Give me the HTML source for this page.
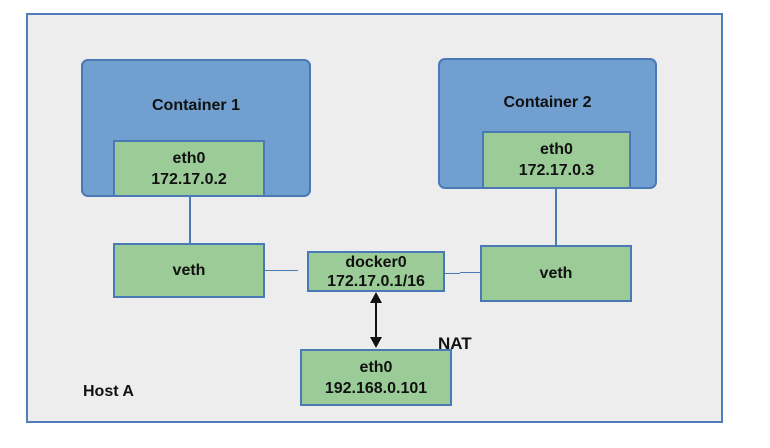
<!DOCTYPE html>
<html><head><style>
body{margin:0;width:770px;height:448px;background:#fff;position:relative;overflow:hidden;font-family:"Liberation Sans",sans-serif;font-weight:bold;color:#111}
div{position:absolute;box-sizing:border-box}
.g{background:#9bcc98;border:2px solid #4a79b5;text-align:center;font-size:16px;display:flex;flex-direction:column;justify-content:center;line-height:21px}
.c{background:#709fd0;border:2px solid #4a79b5;border-radius:7px}
</style></head><body>
<div style="left:26px;top:13px;width:697px;height:410px;background:#ededed;border:2px solid #4f7fb8"></div>
<div class="c" style="left:81px;top:59px;width:230px;height:138px"></div>
<div style="left:81px;top:97px;width:230px;text-align:center;font-size:16px">Container 1</div>
<div class="g" style="left:113px;top:140px;width:152px;height:57px">eth0<br>172.17.0.2</div>
<div class="c" style="left:438px;top:58px;width:219px;height:131px"></div>
<div style="left:438px;top:94px;width:219px;text-align:center;font-size:16px">Container 2</div>
<div class="g" style="left:482px;top:131px;width:149px;height:58px">eth0<br>172.17.0.3</div>
<div style="left:189px;top:196px;width:2px;height:47px;background:#4a79b5"></div>
<div style="left:555px;top:188px;width:2px;height:57px;background:#4a79b5"></div>
<div class="g" style="left:113px;top:243px;width:152px;height:55px">veth</div>
<div class="g" style="left:480px;top:245px;width:152px;height:57px">veth</div>
<div style="left:264px;top:270px;width:34px;height:1px;background:#4a79b5"></div>
<div style="left:440px;top:273px;width:20px;height:1px;background:#4a79b5"></div>
<div style="left:460px;top:272px;width:21px;height:1px;background:#4a79b5"></div>
<div class="g" style="left:307px;top:251px;width:138px;height:41px;line-height:19px">docker0<br>172.17.0.1/16</div>
<svg style="position:absolute;left:366px;top:291px" width="20" height="60"><line x1="10" y1="10" x2="10" y2="48" stroke="#111" stroke-width="2"/><polygon points="10,1 4,12 16,12" fill="#111"/><polygon points="10,57 4,46 16,46" fill="#111"/></svg>
<div style="left:438px;top:334px;font-size:17px">NAT</div>
<div class="g" style="left:300px;top:349px;width:152px;height:57px">eth0<br>192.168.0.101</div>
<div style="left:83px;top:383px;font-size:16px">Host A</div>
</body></html>
